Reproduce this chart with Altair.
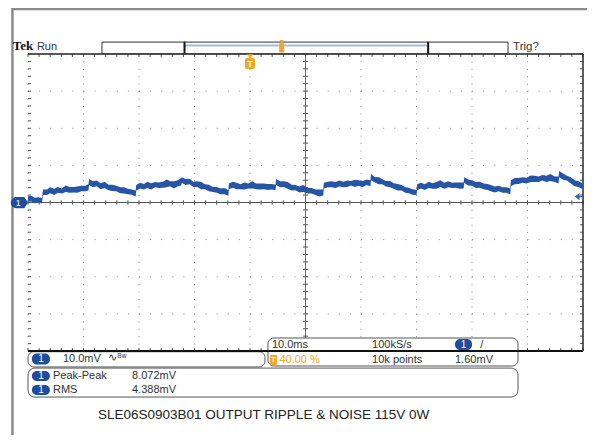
import altair as alt
import pandas as pd

# ---------------- trace data (time in ms, voltage in mV) ----------------
t_ms = [
    -40.0, -39.4, -38.8, -38.1, -37.5,
    -37.3, -36.6, -36.0, -35.3, -34.6, -33.9, -33.2, -32.5, -31.8, -31.1, -30.4, -29.7, -29.1,
    -29.0, -28.3, -27.6, -26.9, -26.2, -25.5, -24.8, -24.1, -23.4, -22.7, -22.0, -21.3, -20.6,
    -20.5, -19.8, -19.1, -18.5, -17.8, -17.1, -16.4, -15.7, -15.0, -14.4, -13.7, -13.0, -12.4,
    -12.3, -11.6, -10.9, -10.2, -9.5, -8.8, -8.1, -7.4, -6.7, -6.0, -5.3, -4.6, -3.9,
    -3.8, -3.1, -2.4, -1.7, -1.0, -0.3, 0.4, 1.1, 1.8, 2.5, 3.2, 3.9, 4.6,
    4.7, 5.4, 6.1, 6.8, 7.5, 8.2, 8.9, 9.6, 10.4, 11.1, 11.8, 12.5, 13.2,
    13.3, 14.0, 14.7, 15.4, 16.1, 16.8, 17.5, 18.2, 18.9, 19.6, 20.3, 21.0, 21.7,
    21.8, 22.5, 23.2, 23.8, 24.5, 25.2, 25.9, 26.6, 27.3, 28.0, 28.6, 29.3, 30.0,
    30.1, 30.8, 31.5, 32.2, 32.9, 33.6, 34.3, 35.0, 35.7, 36.4, 37.1, 37.8, 38.5,
    38.6, 39.3, 40.0, 40.7, 41.4, 42.1, 42.8, 43.4, 44.1, 44.8, 45.5, 46.2, 46.9,
    47.0, 47.7, 48.4, 49.1, 49.8, 50.6, 51.3, 52.0, 52.7, 53.4, 54.1, 54.9, 55.6,
    55.7, 56.4, 57.1, 57.8, 58.5, 59.2, 60.0,
]
center_mv = [
    1.0, 0.9, 0.7, 0.6, 0.5,
    2.7, 2.9, 3.1, 3.0, 3.3, 3.2, 3.4, 3.5, 3.4, 3.7, 3.6, 3.8, 3.9,
    5.4, 5.0, 5.1, 4.6, 4.5, 4.1, 4.0, 3.6, 3.5, 3.1, 3.0, 2.7, 2.5,
    4.1, 4.4, 4.3, 4.6, 4.5, 4.7, 4.8, 4.7, 4.9, 5.0, 4.9, 5.1, 5.4,
    6.0, 5.6, 5.5, 5.0, 4.9, 4.5, 4.2, 4.0, 3.6, 3.3, 3.1, 2.8, 2.6,
    4.4, 4.6, 4.5, 4.3, 4.5, 4.4, 4.6, 4.3, 4.4, 4.2, 4.4, 4.2, 4.1,
    5.4, 5.0, 4.9, 4.5, 4.2, 3.9, 3.6, 3.5, 3.2, 3.0, 2.9, 2.7, 2.6,
    4.6, 4.8, 4.7, 4.9, 5.0, 4.9, 5.1, 5.2, 5.0, 5.2, 5.1, 5.3, 5.2,
    6.7, 6.2, 5.9, 5.5, 5.2, 4.8, 4.5, 4.2, 3.8, 3.5, 3.2, 2.9, 2.6,
    4.1, 4.4, 4.3, 4.6, 4.5, 4.7, 4.8, 4.6, 4.8, 4.7, 4.6, 4.7, 4.5,
    5.9, 5.5, 5.2, 4.9, 4.6, 4.4, 4.1, 3.9, 3.7, 3.6, 3.4, 3.3, 3.1,
    5.3, 5.6, 5.8, 5.9, 6.1, 6.2, 6.4, 6.3, 6.5, 6.4, 6.5, 6.3, 6.1,
    7.5, 7.0, 6.5, 5.9, 5.4, 4.9, 4.4,
]
noise_up = [
    0.7, 0.9, 0.6, 0.8, 0.7,
    0.8, 0.6, 1.0, 0.7, 0.9, 0.6, 1.2, 0.7, 0.8, 0.6, 0.9, 0.7, 1.0,
    0.9, 0.7, 0.8, 0.6, 1.1, 0.7, 0.8, 0.9, 0.6, 1.0, 0.7, 0.8, 0.7,
    0.6, 0.9, 0.7, 1.0, 0.7, 0.8, 0.6, 0.9, 1.3, 0.7, 0.8, 0.9, 1.2,
    0.8, 0.7, 0.9, 0.6, 0.8, 1.0, 0.7, 0.8, 0.6, 0.9, 0.7, 1.1, 0.8,
    0.7, 1.0, 0.8, 0.6, 0.9, 0.7, 1.1, 0.8, 0.7, 0.9, 0.6, 0.8, 0.7,
    0.9, 0.7, 0.8, 1.0, 0.6, 0.8, 0.7, 1.2, 0.7, 0.9, 0.6, 0.8, 0.9,
    0.7, 0.8, 1.0, 0.6, 0.9, 0.7, 0.8, 0.6, 1.1, 0.8, 0.7, 0.9, 0.8,
    1.0, 0.7, 0.9, 0.8, 0.6, 1.0, 0.7, 0.8, 0.9, 0.6, 0.8, 0.7, 0.8,
    0.8, 0.9, 0.6, 1.0, 0.7, 0.8, 1.2, 0.7, 0.9, 0.6, 0.8, 0.7, 0.9,
    0.9, 0.7, 0.8, 0.6, 1.0, 0.7, 0.9, 0.8, 0.6, 0.9, 0.7, 0.8, 0.7,
    0.7, 1.0, 0.8, 0.9, 0.6, 1.1, 0.8, 0.7, 0.9, 0.8, 1.2, 0.7, 0.9,
    1.0, 0.8, 0.7, 0.9, 0.6, 0.8, 0.7,
]
noise_dn = [
    0.8, 0.6, 0.9, 0.7, 0.8,
    0.7, 0.9, 0.6, 1.0, 0.7, 0.8, 0.6, 0.9, 0.7, 1.1, 0.6, 0.8, 0.7,
    0.6, 0.9, 0.7, 1.0, 0.6, 0.8, 0.9, 0.6, 1.0, 0.7, 0.8, 0.6, 0.9,
    0.9, 0.6, 0.8, 0.7, 1.0, 0.6, 0.9, 0.7, 0.8, 0.6, 1.1, 0.7, 0.8,
    0.7, 0.9, 0.6, 0.8, 0.7, 0.9, 0.6, 1.0, 0.8, 0.7, 0.9, 0.6, 0.8,
    0.8, 0.6, 0.9, 0.7, 1.0, 0.6, 0.8, 0.7, 0.9, 0.6, 1.0, 0.7, 0.8,
    0.6, 0.9, 0.7, 0.8, 1.0, 0.6, 0.9, 0.7, 0.8, 0.6, 0.9, 1.1, 0.7,
    0.9, 0.7, 0.6, 1.0, 0.7, 0.8, 0.9, 0.6, 0.8, 0.7, 1.0, 0.6, 0.8,
    0.7, 0.8, 1.0, 0.6, 0.9, 0.7, 0.8, 1.0, 0.6, 0.9, 0.7, 0.8, 0.6,
    0.8, 0.6, 0.9, 0.7, 0.8, 1.0, 0.6, 0.9, 0.7, 0.8, 0.6, 1.0, 0.7,
    0.6, 0.9, 0.7, 1.0, 0.6, 0.8, 0.7, 0.9, 1.0, 0.6, 0.8, 0.7, 0.9,
    0.9, 0.7, 0.8, 0.6, 1.0, 0.7, 0.9, 0.8, 0.6, 0.9, 0.7, 0.8, 1.0,
    0.7, 0.9, 0.6, 0.8, 1.0, 0.7, 0.8,
]

# ---------------- readout texts ----------------
brand = "Tek"
run_state = "Run"
trig_state = "Trig?"
ch_scale = "10.0mV"
time_scale = "10.0ms"
sample_rate = "100kS/s"
trig_pos = "40.00 %"
rec_len = "10k points"
trig_level = "1.60mV"
meas_names = ["Peak-Peak", "RMS"]
meas_values = ["8.072mV", "4.388mV"]
title = "SLE06S0903B01 OUTPUT RIPPLE & NOISE 115V 0W"

# divisions: 10 ms/div x 10 div, trigger at 40 %; 10 mV/div x 8 div
xs = alt.Scale(domain=[-40, 60], nice=False, zero=False)
ys = alt.Scale(domain=[-40, 40], nice=False, zero=False)

BLUE = "#2755a6"
PILL = "#1f4d9e"
ORANGE = "#f2a52a"
INK = "#333333"
FONT = "Liberation Sans"

one = pd.DataFrame({"k": [0]})
layers = []


def X(v):
    return alt.XDatum(v, scale=xs, axis=None)


def Y(v):
    return alt.YDatum(v, scale=ys, axis=None)


def FX(f):
    return alt.X(f, scale=xs, axis=None)


def FY(f):
    return alt.Y(f, scale=ys, axis=None)


def add_rule(x1, y1, x2, y2, color, width=1.0, dash=None):
    kw = dict(color=color, strokeWidth=width)
    if dash:
        kw["strokeDash"] = dash
    layers.append(
        alt.Chart(one).mark_rule(**kw).encode(
            x=X(x1), y=Y(y1), x2=alt.X2Datum(x2), y2=alt.Y2Datum(y2)
        )
    )


def add_rect(x1, y1, x2, y2, fill, stroke=None, width=1.0, radius=0):
    kw = dict(fill=fill, cornerRadius=radius)
    if stroke:
        kw["stroke"] = stroke
        kw["strokeWidth"] = width
    else:
        kw["strokeWidth"] = 0
    layers.append(
        alt.Chart(one).mark_rect(**kw).encode(
            x=X(x1), y=Y(y1), x2=alt.X2Datum(x2), y2=alt.Y2Datum(y2)
        )
    )


def add_text(x, y, label, size=11, color=INK, align="left", baseline="middle",
             weight="normal", font=FONT):
    layers.append(
        alt.Chart(one).mark_text(
            text=label, fontSize=size, color=color, align=align,
            baseline=baseline, fontWeight=weight, font=font,
        ).encode(x=X(x), y=Y(y))
    )


def add_symbol(x, y, shape, size, color):
    layers.append(
        alt.Chart(one).mark_point(
            shape=shape, size=size, filled=True, color=color, opacity=1,
            strokeWidth=0,
        ).encode(x=X(x), y=Y(y))
    )


# ---------------- outer screenshot border ----------------
add_rule(-42.8, 52.1, 62.5, 52.1, "#8a8a8a", 2.5)
add_rule(-42.8, 52.4, -42.8, -66, "#8a8a8a", 2.5)

# ---------------- graticule ----------------
grid_t = pd.DataFrame({"t": [-40, -30, -20, -10, 0, 20, 30, 40, 50]})
grid_v = pd.DataFrame({"v": [-30, -20, -10, 10, 20, 30]})
layers.append(
    alt.Chart(grid_t).mark_rule(color="#8a8a8a", strokeWidth=1, strokeDash=[1, 6.425])
    .encode(x=FX("t:Q"), y=Y(40), y2=alt.Y2Datum(-40))
)
layers.append(
    alt.Chart(grid_v).mark_rule(color="#8a8a8a", strokeWidth=1, strokeDash=[1, 10.1])
    .encode(y=FY("v:Q"), x=X(-40), x2=alt.X2Datum(60))
)
# centre cross
add_rule(-40, 0, 60, 0, "#555555", 1)
add_rule(10, 40, 10, -40, "#6a6a6a", 1)

# minor ticks (1/5 division)
minor_t = pd.DataFrame({"t": [-40 + 2 * i for i in range(51)]})
minor_v = pd.DataFrame({"v": [-40 + 2 * i for i in range(41)]})
for ya, yb in [(40, 39.2), (-40, -39.2), (0.6, -0.6)]:
    layers.append(
        alt.Chart(minor_t).mark_rule(color="#555555", strokeWidth=1)
        .encode(x=FX("t:Q"), y=Y(ya), y2=alt.Y2Datum(yb))
    )
for xa, xb in [(-40, -39.45), (60, 59.45), (9.55, 10.45)]:
    layers.append(
        alt.Chart(minor_v).mark_rule(color="#555555", strokeWidth=1)
        .encode(y=FY("v:Q"), x=X(xa), x2=alt.X2Datum(xb))
    )

# frame edges
add_rule(-40, 40, 60, 40, "#222222", 1.5)
add_rule(60, 40, 60, -40, "#2a2a2a", 1.5)

# ---------------- trace ----------------
trace = pd.DataFrame({"t": t_ms, "c": center_mv, "u": noise_up, "d": noise_dn})
trace["hi"] = trace["c"] + trace["u"]
trace["lo"] = trace["c"] - trace["d"]
layers.append(
    alt.Chart(trace).mark_area(color=BLUE, opacity=1, interpolate="linear")
    .encode(x=FX("t:Q"), y=FY("hi:Q"), y2="lo:Q")
)

# ---------------- markers on the graticule ----------------
# channel 1 ground marker
add_symbol(-41.35, 0, "M-0.55,-0.75 A0.75,0.75 0 0 0 -0.55,0.75 L0.5,0.75 L1,0 L0.5,-0.75 Z", 225, PILL)
add_text(-41.75, 0, "1", size=9, color="white", align="center")
# trigger level arrow on the right
add_symbol(59.3, 1.6, "M-1,0 L0.1,-0.8 L0.1,0.8 Z M0.1,-0.15 L1,-0.15 L1,0.15 L0.1,0.15 Z", 81, "#3a64b0")
# trigger position marker
add_symbol(0, 39.4, "triangle-down", 40, ORANGE)
add_rect(-0.9, 38.9, 0.9, 35.95, ORANGE, radius=2)
add_text(0, 37.4, "T", size=9, color="white", align="center", weight="bold")

# ---------------- top status line ----------------
add_text(-42.75, 41.1, brand, size=13, color="#111111", baseline="alphabetic",
         weight="bold", font="Liberation Serif")
add_text(-38.4, 41.1, run_state, size=11, baseline="alphabetic")
add_text(47.4, 41.1, trig_state, size=11.5, baseline="alphabetic")
# record bar
add_rect(-26.67, 43.2, 46.49, 40.1, "white", "#333333", 1)
add_rule(-11.8, 42.3, 32.1, 42.3, "#a8bcd9", 2)
add_rule(-11.8, 43.3, -11.8, 40.1, "#111111", 2)
add_rule(32.1, 43.3, 32.1, 40.1, "#111111", 2)
add_symbol(5.7, 43.3, "triangle-down", 18, ORANGE)
add_rect(5.25, 42.9, 6.15, 40.4, ORANGE, radius=1)

# ---------------- readout boxes ----------------
add_rect(-40, -40.2, 2.7, -44.3, "white", "#555555", 1, radius=6)
add_rect(3.24, -36.5, 48.29, -44.04, "white", "#555555", 1, radius=6)
add_rect(-40, -44.6, 48.29, -52.4, "white", "#555555", 1, radius=7)
add_rule(-40, -40, 60, -40, "#111111", 2)

# box A: channel scale
add_rect(-39.3, -40.65, -36.05, -43.65, PILL, radius=5)
add_text(-37.67, -42.15, "1", size=10, color="white", align="center")
add_text(-33.7, -42.15, ch_scale, size=11)
add_text(-25.6, -42.0, "\u223f", size=11)
add_text(-23.9, -41.4, "Bw", size=6.5)

# box B: timebase / trigger
add_text(3.95, -38.4, time_scale, size=11)
add_text(22.0, -38.4, sample_rate, size=11)
add_rect(36.95, -36.8, 40.0, -39.7, PILL, radius=5)
add_text(38.47, -38.25, "1", size=10, color="white", align="center")
add_text(41.5, -38.3, "/", size=11)
add_rect(3.6, -41.1, 4.85, -43.75, ORANGE, radius=1)
add_text(4.22, -42.45, "T", size=8, color="white", align="center", weight="bold")
add_text(5.3, -42.45, trig_pos, size=11, color=ORANGE)
add_text(22.0, -42.45, rec_len, size=11)
add_text(36.95, -42.45, trig_level, size=11)

# box C: measurements
for i, (nm, val) in enumerate(zip(meas_names, meas_values)):
    yc = -46.75 - 3.75 * i
    add_rect(-39.3, yc + 1.35, -36.05, yc - 1.35, PILL, radius=5)
    add_text(-37.67, yc, "1", size=10, color="white", align="center")
    add_text(-35.5, yc, nm, size=11)
    add_text(-21.25, yc, val, size=11)

# caption
add_text(2.45, -57.25, title, size=13.5, color="#222222", align="center", font="Liberation Sans")

chart = (
    alt.layer(*layers)
    .properties(
        width=555,
        height=297,
        autosize=alt.AutoSizeParams(type="none"),
        padding={"left": 20, "top": 46, "right": 4, "bottom": 84},
        background="white",
    )
    .configure_view(strokeWidth=0)
)

chart.save("out.html", embed_options={"renderer": "svg", "actions": False})
